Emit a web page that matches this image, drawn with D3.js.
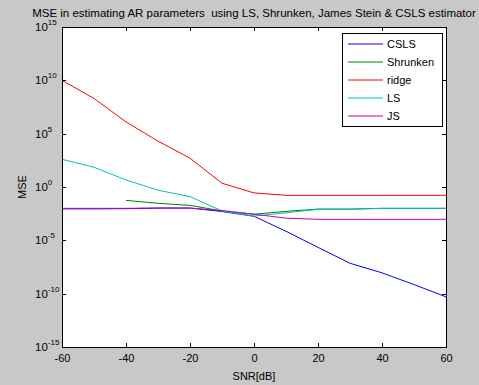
<!DOCTYPE html>
<html><head><meta charset="utf-8">
<script src="https://cdn.jsdelivr.net/npm/d3@7"></script>
<style>
html,body{margin:0;padding:0;background:#c8c8c8;}
svg{display:block;font-family:"Liberation Sans",Arial,sans-serif;}
</style></head>
<body>
<svg id="chart" width="479" height="385"></svg>
<script>
const snr = [-60,-50,-40,-30,-20,-10,0,10,20,30,40,50,60];
const cslsMSE = [8.9e-3,8.9e-3,9.3e-3,1.05e-2,1.07e-2,5.0e-3,1.8e-3,7.1e-5,2.2e-6,7.1e-8,8.9e-9,7.1e-10,5.0e-11];
const shrunkenMSE = [null,null,5.6e-2,2.95e-2,1.9e-2,5.6e-3,2.8e-3,5.2e-3,8.5e-3,8.5e-3,1.0e-2,1.0e-2,1.0e-2];
const ridgeMSE = [1e10,2.0e8,1.26e6,2.0e4,500,2.24,0.28,0.166,0.166,0.166,0.166,0.166,0.166];
const lsMSE = [398,70.8,4.57,0.50,0.126,5.6e-3,1.9e-3,3.8e-3,8.1e-3,8.1e-3,1.0e-2,1.0e-2,1.0e-2];
const jsMSE = [1.0e-2,1.0e-2,1.0e-2,1.07e-2,1.05e-2,6.3e-3,2.8e-3,1.2e-3,9.3e-4,9.3e-4,9.3e-4,9.3e-4,9.3e-4];
const seriesNames = ["CSLS","Shrunken","ridge","LS","JS"];
const seriesColors = ["#0000ff","#008000","#ff0000","#00bfbf","#bf00bf"];
const seriesValues = [cslsMSE,shrunkenMSE,ridgeMSE,lsMSE,jsMSE];
const xTicks = [-60,-40,-20,0,20,40,60];
const yTickExps = [15,10,5,0,-5,-10,-15];
const titleText = "MSE in estimating AR parameters  using LS, Shrunken, James Stein & CSLS estimator";

const svg = d3.select("#chart");
const L = 62, R = 446, T = 27, B = 347;
const x = d3.scaleLinear().domain([-60,60]).range([L,R]);
const y = d3.scaleLog().domain([1e-15,1e15]).range([B,T]);

svg.append("rect").attr("x",L).attr("y",T).attr("width",R-L).attr("height",B-T).attr("fill","#fff");

const plot = svg.append("g");
seriesValues.forEach((vals,i)=>{
  const pts = snr.map((s,j)=>[s,vals[j]]).filter(d=>d[1]!=null);
  plot.append("path").datum(pts)
    .attr("fill","none").attr("stroke",seriesColors[i]).attr("stroke-width",1)
    .attr("d",d3.line().x(d=>x(d[0])).y(d=>y(d[1])));
});

// axes (inward ticks, box)
const tl = 4;
const gB = svg.append("g").attr("transform",`translate(0,${B})`)
  .call(d3.axisBottom(x).tickValues(xTicks).tickSizeInner(-tl).tickSizeOuter(0).tickPadding(7).tickFormat(d=>d));
const gT = svg.append("g").attr("transform",`translate(0,${T})`)
  .call(d3.axisTop(x).tickValues(xTicks).tickSizeInner(-tl).tickSizeOuter(0).tickFormat(""));
const yTickVals = yTickExps.map(e=>Math.pow(10,e));
const gL = svg.append("g").attr("transform",`translate(${L},0)`)
  .call(d3.axisLeft(y).tickValues(yTickVals).tickSizeInner(-tl).tickSizeOuter(0).tickFormat(""));
const gR = svg.append("g").attr("transform",`translate(${R},0)`)
  .call(d3.axisRight(y).tickValues(yTickVals).tickSizeInner(-tl).tickSizeOuter(0).tickFormat(""));
[gB,gT,gL,gR].forEach(g=>{
  g.selectAll(".domain").remove();
  g.selectAll("line").attr("stroke","#000").attr("shape-rendering","crispEdges");
});
gB.selectAll("text").attr("fill","#000").attr("font-size",11).attr("font-family","Liberation Sans, Arial, sans-serif");
svg.append("rect").attr("x",L).attr("y",T).attr("width",R-L).attr("height",B-T)
  .attr("fill","none").attr("stroke","#000").attr("shape-rendering","crispEdges");

// y tick labels 10^e
yTickExps.forEach(e=>{
  const t = svg.append("text").attr("x",35).attr("y",y(Math.pow(10,e))+4)
    .attr("font-size",11.5).attr("fill","#000");
  t.append("tspan").text("10");
  t.append("tspan").attr("dy",-6).attr("font-size",8).text(String(e));
});

// labels
svg.append("text").attr("x",(L+R)/2).attr("y",17).attr("text-anchor","middle")
  .style("white-space","pre")
  .attr("font-size",11.5).attr("fill","#000").text(titleText);
svg.append("text").attr("x",(L+R)/2).attr("y",380).attr("text-anchor","middle")
  .attr("font-size",11).attr("fill","#000").text("SNR[dB]");
svg.append("text").attr("transform",`translate(26,187) rotate(-90)`).attr("text-anchor","middle")
  .attr("font-size",11).attr("fill","#000").text("MSE");

// legend
const lg = svg.append("g");
lg.append("rect").attr("x",342).attr("y",33).attr("width",100).attr("height",93)
  .attr("fill","#fff").attr("stroke","#000").attr("shape-rendering","crispEdges");
seriesNames.forEach((n,i)=>{
  const yy = 44 + i*18;
  lg.append("line").attr("x1",348).attr("x2",383).attr("y1",yy).attr("y2",yy)
    .attr("stroke",seriesColors[i]).attr("stroke-width",1);
  lg.append("text").attr("x",387).attr("y",yy+4).attr("font-size",11).attr("fill","#000").text(n);
});
</script>
</body></html>
